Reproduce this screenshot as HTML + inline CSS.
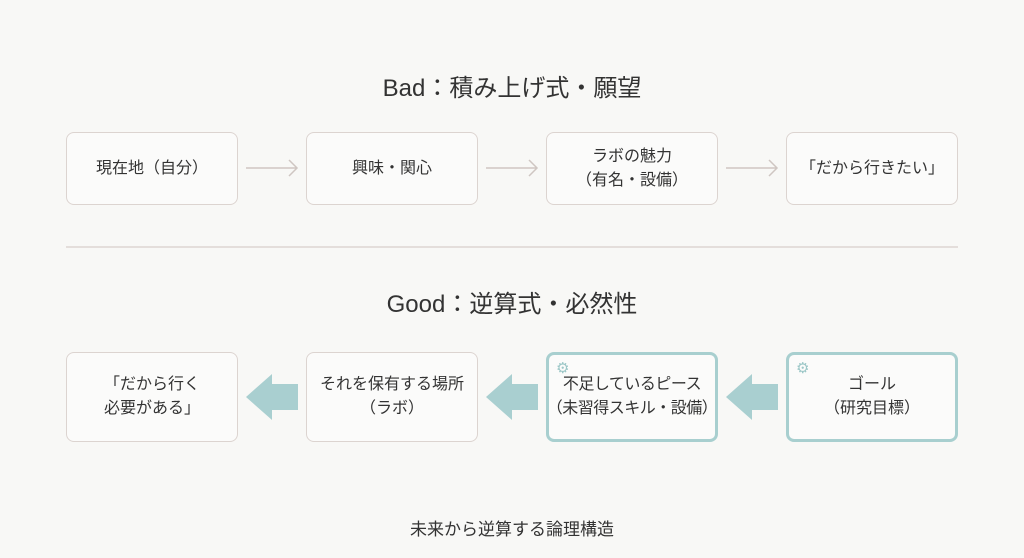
<!DOCTYPE html>
<html><head><meta charset="utf-8"><style>
body{margin:0;width:1024px;height:558px;background:#f8f8f6;position:relative;overflow:hidden;font-family:"Liberation Sans","Noto Sans CJK JP",sans-serif;color:#333;}
.t{position:absolute;left:0;width:1024px;text-align:center;}
.b{position:absolute;box-sizing:border-box;border:1.5px solid #dcd4d0;border-radius:8px;background:#fbfbfa;display:flex;align-items:center;justify-content:center;text-align:center;font-size:16px;line-height:24px;white-space:nowrap;}
.g{border:3px solid #a8cfcf;}
.gear{position:absolute;left:7px;top:2px;color:#9cc7c7;font-size:15px;}
</style></head><body>
<div class="t" style="top:68px;font-size:24px;">Bad：積み上げ式・願望</div>
<div class="b" style="left:66px;top:132px;width:172px;height:73px;">現在地（自分）</div>
<div class="b" style="left:306px;top:132px;width:172px;height:73px;">興味・関心</div>
<div class="b" style="left:546px;top:132px;width:172px;height:73px;"><div>ラボの魅力<br>（有名・設備）</div></div>
<div class="b" style="left:786px;top:132px;width:172px;height:73px;">「だから行きたい」</div>
<svg style="position:absolute;left:0;top:0" width="1024" height="558">
<g stroke="#cfc6c2" stroke-width="1.5" fill="none">
<path d="M246 168H297M289 160L297 168L289 176"/>
<path d="M486 168H537M529 160L537 168L529 176"/>
<path d="M726 168H777M769 160L777 168L769 176"/>
</g>
<line x1="66" y1="247" x2="958" y2="247" stroke="#ddd5d2" stroke-width="1.5"/>
<g fill="#a9cfd0">
<path d="M298 384H272V374L246 397L272 420V410H298Z"/>
<path d="M538 384H512V374L486 397L512 420V410H538Z"/>
<path d="M778 384H752V374L726 397L752 420V410H778Z"/>
</g>
</svg>
<div class="t" style="top:284px;font-size:24px;">Good：逆算式・必然性</div>
<div class="b" style="left:66px;top:352px;width:172px;height:90px;"><div>「だから行く<br>必要がある」</div></div>
<div class="b" style="left:306px;top:352px;width:172px;height:90px;"><div>それを保有する場所<br>（ラボ）</div></div>
<div class="b g" style="left:546px;top:352px;width:172px;height:90px;"><span class="gear">⚙</span><div style="letter-spacing:-0.5px">不足しているピース<br>（未習得スキル・設備）</div></div>
<div class="b g" style="left:786px;top:352px;width:172px;height:90px;"><span class="gear">⚙</span><div>ゴール<br>（研究目標）</div></div>
<div class="t" style="top:515px;font-size:17px;">未来から逆算する論理構造</div>
</body></html>
